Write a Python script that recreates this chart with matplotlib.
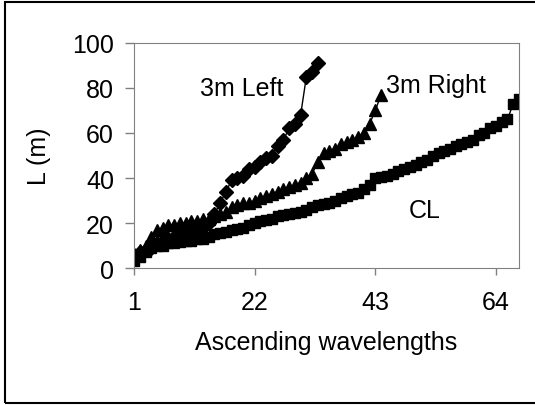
import matplotlib.pyplot as plt
import matplotlib.patches as patches

plt.rcParams['font.family'] = ['Liberation Sans', 'DejaVu Sans']

# 데이터
left_3m = [6, 7, 8, 9, 11, 12, 13, 14, 15, 15, 16, 17, 18, 20, 24, 29, 34,
           39, 40, 41, 44, 45, 47, 49, 50, 54, 57, 62, 64, 68, 85, 87, 91]
right_3m = [6, 8, 10, 14, 17, 18, 19, 19, 20, 20, 21, 21, 22, 22, 23, 24, 25,
            27, 28, 29, 29, 30, 31, 32, 33, 34, 35, 36, 37, 38, 40, 42, 47,
            51, 52, 53, 55, 56, 57, 58, 60, 64, 70, 77]
cl = [3, 5, 7, 9, 10, 10, 11, 11, 11.5, 12, 12, 13, 13, 14, 15, 15.5, 16, 17,
      17.5, 18, 19, 20, 21, 21.5, 22, 23, 23.5, 24, 24.5, 25, 26, 27, 28, 28.5,
      29, 30, 31, 32, 33, 33.5, 35, 37, 40, 40.5, 41, 42, 43, 44, 45, 46, 47,
      48, 50, 51, 52, 53, 54, 55, 56, 57, 59, 60, 62, 63, 65, 66, 73, 75]

x_ticks = [1, 22, 43, 64]
y_ticks = [0, 20, 40, 60, 80, 100]

fig = plt.figure(figsize=(5.35, 4.06), dpi=100)
ax = fig.add_axes([0.2505, 0.337, 0.7195, 0.555])

ax.plot(range(1, len(left_3m) + 1), left_3m, color='black', lw=1,
        marker='D', markersize=7.5)
ax.plot(range(1, len(right_3m) + 1), right_3m, color='black', lw=1,
        marker='^', markersize=8)
ax.plot(range(1, len(cl) + 1), cl, color='black', lw=1,
        marker='s', markersize=7)

ax.set_xlim(1, 68)
ax.set_ylim(0, 100)
ax.set_xticks(x_ticks)
ax.set_yticks(y_ticks)
ax.tick_params(labelsize=18, color='#808080', width=1)
ax.tick_params(axis='x', length=5, pad=11)
ax.tick_params(axis='y', length=6.5, pad=8)
for s in ax.spines.values():
    s.set_color('#808080')

ax.set_xlabel('Ascending wavelengths', fontsize=18, labelpad=11)
ax.set_ylabel('L (m)', fontsize=18, labelpad=15)

# 시리즈 라벨
ax.text(19.8, 80, '3m Left', fontsize=18, ha='center', va='center')
ax.text(53.6, 81.3, '3m Right', fontsize=18, ha='center', va='center')
ax.text(51.6, 25.8, 'CL', fontsize=18, ha='center', va='center')

# 바깥 테두리 (오른쪽은 잘려 있음)
fig.patches.append(patches.Rectangle((5 / 535, 2 / 406), 540 / 535, 401 / 406,
                                     transform=fig.transFigure, fill=False,
                                     edgecolor='black', lw=1.5))

plt.savefig('out.png', dpi=100)
